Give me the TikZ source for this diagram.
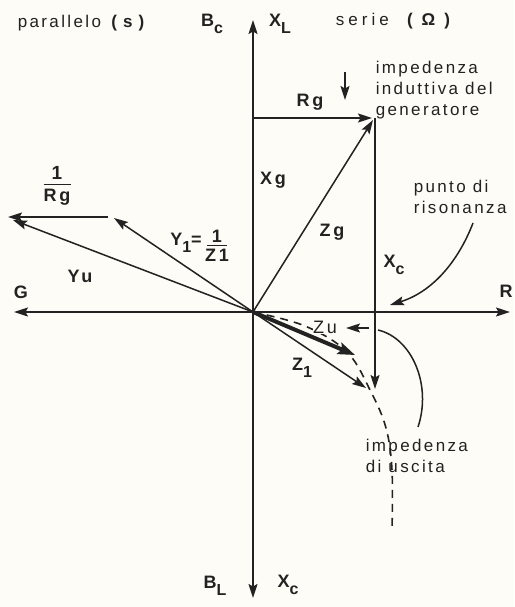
\documentclass[tikz,border=0pt]{standalone}
\usepackage{fontspec}
\setmainfont{Liberation Sans}[LetterSpace=14]
\newfontfamily\lblfont{Liberation Sans}[LetterSpace=16]
\newfontfamily\widefont{Liberation Sans}[LetterSpace=24]
\usetikzlibrary{arrows.meta}
\newcommand\lsub[1]{\raisebox{-0.75ex}{\fontsize{16}{16}\selectfont #1}}
\definecolor{paper}{HTML}{FDFCF6}
\definecolor{ink}{HTML}{222222}
\begin{document}
\begin{tikzpicture}[x=1pt,y=-1pt,
  line width=1.5pt, draw=ink, text=ink,
  arr/.style={-{Stealth[length=14pt,width=9pt,inset=2.5pt]}},
  biarr/.style={{Stealth[length=14pt,width=9pt,inset=2.5pt]}-{Stealth[length=14pt,width=9pt,inset=2.5pt]}},
  lbl/.style={font=\fontsize{18}{20}\selectfont\lblfont\bfseries, inner sep=1pt, text=ink},
  txt/.style={font=\fontsize{17}{21}\selectfont, align=left, inner sep=0pt, anchor=west, text=ink},
]
\fill[paper] (0,0) rectangle (514,607);
\useasboundingbox (0,0) rectangle (514,607);

% coordinates
\coordinate (O) at (253,312);
\coordinate (Ntop) at (253,20);
\coordinate (Nbot) at (253,598);
\coordinate (Gtip) at (14,312);
\coordinate (Rtip) at (510,312);
\coordinate (A) at (253,118);
\coordinate (P) at (372,118);
\coordinate (Pc) at (375,118);
\coordinate (Xcend) at (375,389);
\coordinate (Zgtip) at (373,120);
\coordinate (Z1tip) at (366,388);
\coordinate (Zutip) at (355,355);
\coordinate (Y1tip) at (114,218);
\coordinate (Yutip) at (13,220);
\coordinate (RgS) at (108,217);
\coordinate (RgE) at (8,217);
\coordinate (downS) at (345,72);
\coordinate (downE) at (345,100);
\coordinate (zuS) at (369,328);
\coordinate (zuE) at (346,328);
\coordinate (resS) at (473,223);
\coordinate (resE) at (390,305);
\coordinate (usS) at (378,330);
\coordinate (usE) at (418,427);

% axes
\draw[biarr] (Nbot) -- (Ntop);
\draw[biarr] (Gtip) -- (Rtip);

% series side
\draw[arr] (A) -- (P);
\draw[arr] (Pc) -- (Xcend);
\draw[arr] (O) -- (Zgtip);
\draw[arr] (O) -- (Z1tip);
\draw[-{Stealth[length=17pt,width=12pt,inset=3pt]}, line width=4pt] (O) -- (Zutip);
\draw[dashed, dash pattern=on 8pt off 6pt, line width=1.6pt]
  plot[smooth, tension=0.6] coordinates {(253,312) (305,326) (347,352) (371,392) (386,428) (392,470) (392,530)};
\draw[arr] (downS) -- (downE);
\draw[arr] (zuS) -- (zuE);
\draw[arr] (resS) .. controls (458,262) and (432,292) .. (resE);
\draw (usS) .. controls (412,338) and (432,385) .. (usE);

% parallel side
\draw[arr] (RgS) -- (RgE);
\draw[arr] (O) -- (Yutip);
\draw[arr] (O) -- (Y1tip);

% texts
\node[txt] (tpar) at (17,23) {parallelo\hspace{8pt}\textbf{(\hspace{6pt}s\hspace{6pt})}};
\node[txt] (tser) at (335,21) {{\widefont serie}\hspace{14pt}\textbf{(\hspace{9pt}Ω\hspace{9pt})}};
\node[lbl] (lBc) at (212,24) {B\lsub{c}};
\node[lbl] (lXL) at (280,24) {X\lsub{L}};
\node[lbl] (lBL) at (215,586) {B\lsub{L}};
\node[lbl] (lXc2) at (288,585) {X\lsub{c}};
\node[txt] (tgen) at (375,90) {impedenza\\induttiva del\\generatore};
\node[lbl] (lRg) at (310,102) {Rg};
\node[lbl] (lXg) at (273,180) {Xg};
\node[lbl] (lZg) at (332,232) {Zg};
\node[lbl] (lXc) at (394,265) {X\lsub{c}};
\node[txt] (tres) at (413,197) {punto di\\risonanza};
\node[lbl] (lR) at (506,291) {R};
\node[lbl] (lG) at (21,292) {G};
\node[lbl] (lYu) at (80,276) {Yu};
\node[lbl] (lRgf) at (57,186) {\shortstack{\fontsize{19}{19}\selectfont 1\\[1pt]\rule{27pt}{1.5pt}\\[1pt]Rg}};
\node[lbl] (lY1) at (186,243) {Y\lsub{1}=};
\node[lbl] (lZ1f) at (217,246) {\shortstack{1\\[-1pt]\rule{20pt}{1.5pt}\\Z1}};
\node[lbl, fill=paper, inner sep=0.5pt, font=\fontsize{18}{20}\selectfont\lblfont] (lZu) at (325,327) {Zu};
\node[lbl] (lZ1) at (302,368) {Z\lsub{1}};
\node[txt] (tusc) at (365,456) {impedenza\\di uscita};
\end{tikzpicture}
\end{document}
